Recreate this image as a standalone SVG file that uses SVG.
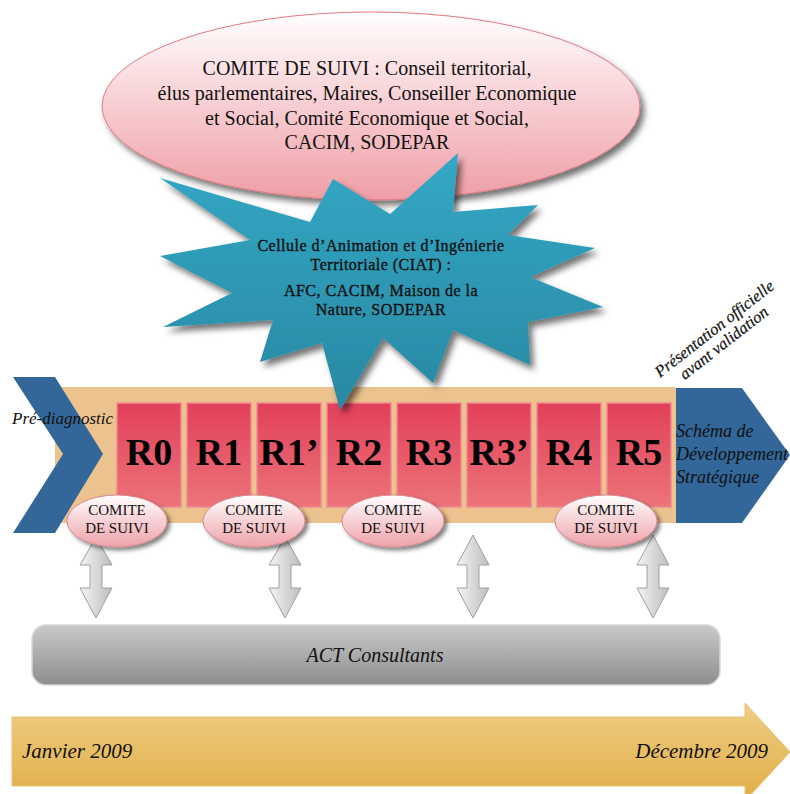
<svg xmlns="http://www.w3.org/2000/svg" width="790" height="794" viewBox="0 0 790 794">
<defs>
<linearGradient id="gEll" x1="0" y1="0" x2="0" y2="1"><stop offset="0" stop-color="#ffffff"/><stop offset="0.45" stop-color="#f8d2d6"/><stop offset="1" stop-color="#ef9ea6"/></linearGradient>
<linearGradient id="gStar" x1="0" y1="0" x2="0" y2="1"><stop offset="0" stop-color="#32a8c6"/><stop offset="1" stop-color="#2a88a2"/></linearGradient>
<linearGradient id="gBox" x1="0" y1="0" x2="0" y2="1"><stop offset="0" stop-color="#e2405a"/><stop offset="1" stop-color="#ec7479"/></linearGradient>
<linearGradient id="gSmall" x1="0" y1="0" x2="0" y2="1"><stop offset="0" stop-color="#ffffff"/><stop offset="1" stop-color="#eea2aa"/></linearGradient>
<linearGradient id="gArrow" x1="0" y1="0" x2="1" y2="0"><stop offset="0" stop-color="#f4f4f4"/><stop offset="1" stop-color="#bdbdbd"/></linearGradient>
<linearGradient id="gGray" x1="0" y1="0" x2="0" y2="1"><stop offset="0" stop-color="#c9c9c9"/><stop offset="1" stop-color="#8e8e8e"/></linearGradient>
<linearGradient id="gGold" x1="0" y1="0" x2="0" y2="1"><stop offset="0" stop-color="#efce84"/><stop offset="1" stop-color="#e0ad47"/></linearGradient>
<filter id="sh" x="-10%" y="-10%" width="125%" height="130%"><feDropShadow dx="4" dy="5" stdDeviation="3" flood-color="#000" flood-opacity="0.55"/></filter>
<filter id="shs" x="-20%" y="-20%" width="150%" height="160%"><feDropShadow dx="3" dy="3" stdDeviation="2" flood-color="#000" flood-opacity="0.5"/></filter>
<style>
.serif{font-family:"Liberation Serif","Times New Roman",serif;fill:#111;}
.it{font-style:italic;}
.rbox{fill:url(#gBox);stroke:#f08a95;stroke-width:1.5;}
.rlab{font-family:"Liberation Serif","Times New Roman",serif;font-weight:bold;font-size:38px;fill:#000;text-anchor:middle;}
.small{fill:url(#gSmall);stroke:#d98890;stroke-width:1;filter:url(#shs);}
.stxt{font-family:"Liberation Serif","Times New Roman",serif;font-size:15px;fill:#111;text-anchor:middle;}
.darr{fill:url(#gArrow);stroke:#a0a0a0;stroke-width:1;}
</style>
</defs>
<rect width="790" height="794" fill="#ffffff"/>

<g id="comite-suivi-main">
<ellipse cx="371" cy="106" rx="269" ry="94" fill="url(#gEll)" stroke="#e27a84" stroke-width="1" filter="url(#sh)"/>
<text class="serif" font-size="20" text-anchor="middle"><tspan x="367" y="75">COMITE DE SUIVI : Conseil territorial,</tspan><tspan x="367" y="100">élus parlementaires, Maires, Conseiller Economique</tspan><tspan x="367" y="125">et Social, Comité Economique et Social,</tspan><tspan x="367" y="149">CACIM, SODEPAR</tspan></text>
</g>

<g id="timeline-bar">
<rect x="55" y="387" width="621" height="136" fill="#ecc28e"/>
</g>

<g id="pre-diagnostic">
<polygon points="13,377 55,377 103,454 55,533 13,533 63,454" fill="#336699"/>
<text class="serif it" font-size="17" x="12" y="424">Pré-diagnostic</text>
</g>

<g id="schema">
<polygon points="676,388 742,388 790,455 742,523 676,523" fill="#336699"/>
<text class="serif it" font-size="18" fill="#141432"><tspan x="676" y="437">Schéma de</tspan><tspan x="676" y="460">Développement</tspan><tspan x="676" y="483">Stratégique</tspan></text>
</g>

<g id="presentation-label">
<text class="serif it" font-size="16.5" stroke="#111" stroke-width="0.2" transform="translate(660,378) rotate(-38)"><tspan x="0" y="0">Présentation officielle</tspan><tspan x="18" y="17">avant validation</tspan></text>
</g>

<g id="R0"><rect class="rbox" x="117" y="403" width="64" height="104"/><text class="rlab" x="149" y="465">R0</text></g>
<g id="R1"><rect class="rbox" x="187" y="403" width="64" height="104"/><text class="rlab" x="219" y="465">R1</text></g>
<g id="R1p"><rect class="rbox" x="257" y="403" width="64" height="104"/><text class="rlab" x="289" y="465">R1’</text></g>
<g id="R2"><rect class="rbox" x="327" y="403" width="64" height="104"/><text class="rlab" x="359" y="465">R2</text></g>
<g id="R3"><rect class="rbox" x="397" y="403" width="64" height="104"/><text class="rlab" x="429" y="465">R3</text></g>
<g id="R3p"><rect class="rbox" x="467" y="403" width="64" height="104"/><text class="rlab" x="499" y="465">R3’</text></g>
<g id="R4"><rect class="rbox" x="537" y="403" width="64" height="104"/><text class="rlab" x="569" y="465">R4</text></g>
<g id="R5"><rect class="rbox" x="607" y="403" width="64" height="104"/><text class="rlab" x="639" y="465">R5</text></g>

<g id="ciat">
<polygon points="333,179 390,214 458,153 453,212 538,205 508,235 595,248 530,277 603,307 528,322 530,365 453,330 433,383 383,338 340,410 322,343 260,362 273,320 163,327 232,293 160,256 250,240 160,178 310,222" fill="url(#gStar)" filter="url(#sh)"/>
<text class="serif" font-size="16" letter-spacing="0.5" text-anchor="middle" stroke="#111" stroke-width="0.35"><tspan x="381" y="251">Cellule d’Animation et d’Ingénierie</tspan><tspan x="381" y="270">Territoriale (CIAT) :</tspan><tspan x="381" y="296">AFC, CACIM, Maison de la</tspan><tspan x="381" y="315">Nature, SODEPAR</tspan></text>
</g>

<g id="connectors">
<path class="darr" d="M96,537 L112,565 L102,565 L102,588 L112,588 L96,618 L80,588 L90,588 L90,565 L80,565 Z"/>
<path class="darr" d="M285,537 L301,565 L291,565 L291,588 L301,588 L285,618 L269,588 L279,588 L279,565 L269,565 Z"/>
<path class="darr" d="M473,535 L489,565 L479,565 L479,588 L489,588 L473,618 L457,588 L467,588 L467,565 L457,565 Z"/>
<path class="darr" d="M653,535 L669,565 L659,565 L659,588 L669,588 L653,618 L637,588 L647,588 L647,565 L637,565 Z"/>
</g>

<g id="comite1"><ellipse class="small" cx="117" cy="521" rx="50" ry="26"/><text class="stxt"><tspan x="117" y="515">COMITE</tspan><tspan x="117" y="533">DE SUIVI</tspan></text></g>
<g id="comite2"><ellipse class="small" cx="254" cy="521" rx="51" ry="26"/><text class="stxt"><tspan x="254" y="515">COMITE</tspan><tspan x="254" y="533">DE SUIVI</tspan></text></g>
<g id="comite3"><ellipse class="small" cx="393" cy="521" rx="51" ry="26"/><text class="stxt"><tspan x="393" y="515">COMITE</tspan><tspan x="393" y="533">DE SUIVI</tspan></text></g>
<g id="comite4"><ellipse class="small" cx="606" cy="521" rx="51" ry="26"/><text class="stxt"><tspan x="606" y="515">COMITE</tspan><tspan x="606" y="533">DE SUIVI</tspan></text></g>

<g id="act">
<rect x="32" y="625" width="688" height="60" rx="14" fill="url(#gGray)" stroke="#d8d8d8" stroke-width="1.5"/>
<text class="serif it" font-size="20" x="375" y="662" text-anchor="middle">ACT Consultants</text>
</g>

<g id="timeline">
<polygon points="12,717 745,717 745,703 790,752 745,801 745,786 12,786" fill="url(#gGold)" stroke="#e6c070" stroke-width="1"/>
<text class="serif it" font-size="21" x="22" y="758">Janvier 2009</text>
<text class="serif it" font-size="21" x="768" y="758" text-anchor="end">Décembre 2009</text>
</g>
</svg>
